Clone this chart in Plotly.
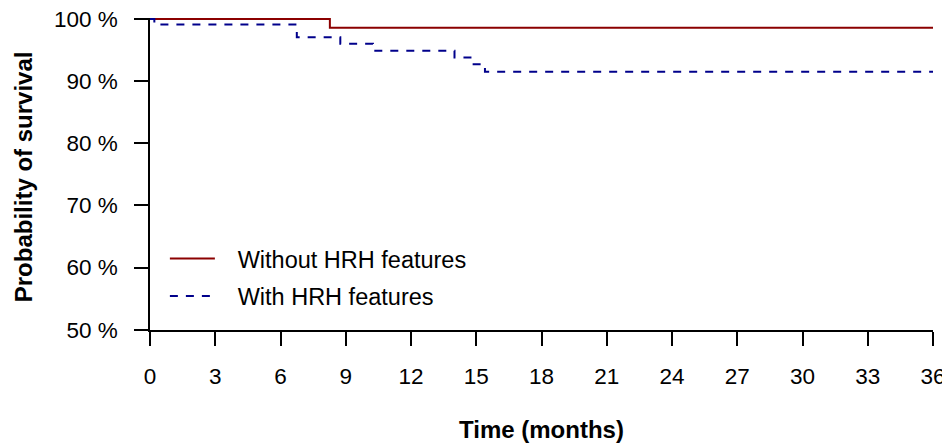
import plotly.graph_objects as go

# ---- data ----
without_time = [0, 8.27, 36]
without_surv = [100, 98.6, 98.6]

with_time = [0, 0.2, 6.75, 8.75, 10.25, 14.0, 14.8, 15.4, 36]
with_surv = [100, 99.1, 97.05, 96.0, 94.9, 93.8, 92.7, 91.5, 91.5]

series_names = ["Without HRH features", "With HRH features"]

x_ticks = list(range(0, 37, 3))
y_ticks = [50, 60, 70, 80, 90, 100]
y_tick_labels = ["50 %", "60 %", "70 %", "80 %", "90 %", "100 %"]

x_title = "Time (months)"
y_title = "Probability of survival"

FONT = "Liberation Sans, Arial, sans-serif"
PAD = "\u00a0\u00a0\u2009"  # visual gap between legend key and label

fig = go.Figure()
fig.add_trace(go.Scatter(
    x=without_time, y=without_surv, mode="lines", line_shape="hv",
    name=PAD + series_names[0], legendgroup="a",
    line=dict(color="#8B0000", width=2),
))
fig.add_trace(go.Scatter(
    x=with_time, y=with_surv, mode="lines", line_shape="hv",
    name=PAD + series_names[1], legendgroup="b",
    line=dict(color="#00008B", width=2, dash="8px,8px"),
))

# The page body has an 8px margin, so the figure is sized to fill the
# remaining 942x438 area of the 950x446 window.
fig.update_layout(
    width=942, height=438,
    margin=dict(l=142, r=17, t=10, b=116, pad=0),
    paper_bgcolor="white", plot_bgcolor="white",
    font=dict(family=FONT, size=22, color="black"),
    showlegend=True,
    legend=dict(
        x=0.019, y=0.299, xanchor="left", yanchor="top",
        bgcolor="rgba(0,0,0,0)", itemwidth=45, tracegroupgap=4,
        font=dict(size=23.5),
    ),
    xaxis=dict(
        range=[0, 36], tickvals=x_ticks, showgrid=False, zeroline=False,
        showline=True, linecolor="black", linewidth=1.5,
        ticks="outside", ticklen=14, tickwidth=1.5, tickcolor="black",
        ticklabelstandoff=11, automargin=False, ticklabeloverflow="allow",
        tickfont=dict(size=22.5),
    ),
    yaxis=dict(
        range=[49.95, 100.15], tickvals=y_ticks, ticktext=y_tick_labels,
        showgrid=False, zeroline=False,
        showline=True, linecolor="black", linewidth=1.5,
        ticks="outside", ticklen=14, tickwidth=1.5, tickcolor="black",
        ticklabelstandoff=12, automargin=False, ticklabeloverflow="allow",
        tickfont=dict(size=22.5),
    ),
    annotations=[
        dict(text="<b>%s</b>" % x_title, xref="paper", yref="paper",
             x=0.5, y=-0.319, xanchor="center", yanchor="middle",
             showarrow=False, font=dict(size=24)),
        dict(text="<b>%s</b>" % y_title, xref="paper", yref="paper",
             x=-0.162, y=0.49, xanchor="center", yanchor="middle",
             textangle=-90, showarrow=False, font=dict(size=24)),
    ],
)

fig.write_html("out.html")
